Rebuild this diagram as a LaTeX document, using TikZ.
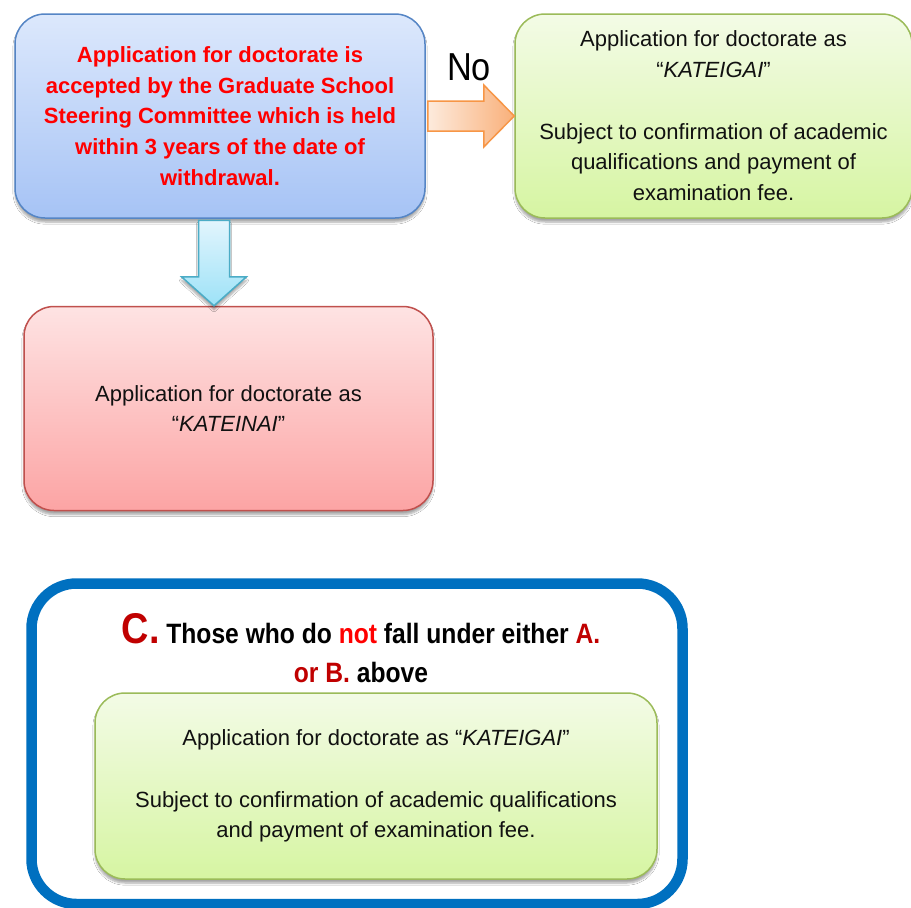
\documentclass[tikz,border=0pt]{standalone}
\usepackage{fontspec}
\setmainfont{Liberation Sans}
\newfontfamily\narrowfont[FakeStretch=0.88]{Liberation Sans}
\usetikzlibrary{shadows.blur,calc}
\definecolor{qborder}{HTML}{5585C5}
\definecolor{qtop}{HTML}{DCE8FC}
\definecolor{qbot}{HTML}{A6C3F5}
\definecolor{gborder}{HTML}{9BBB59}
\definecolor{gtop}{HTML}{F3FBE6}
\definecolor{gbot}{HTML}{D6F5A2}
\definecolor{rborder}{HTML}{C0504D}
\definecolor{rtop}{HTML}{FEE3E3}
\definecolor{rbot}{HTML}{FCA4A4}
\definecolor{oborder}{HTML}{F79646}
\definecolor{oleft}{HTML}{FDEBDD}
\definecolor{oright}{HTML}{F9B07A}
\definecolor{aborder}{HTML}{4BACC6}
\definecolor{atop}{HTML}{E2F5FD}
\definecolor{abot}{HTML}{9DE2F7}
\definecolor{cblue}{HTML}{0070C0}
\definecolor{dred}{HTML}{C00000}
\definecolor{bred}{HTML}{FF0000}
\definecolor{txt}{HTML}{111111}
\tikzset{
  bodytext/.style={font=\fontsize{22}{30.75}\selectfont, text=txt, align=center},
  softshadow/.style={blur shadow={shadow xshift=0pt, shadow yshift=-4pt, shadow blur steps=6, shadow opacity=35}},
  boxbase/.style={rounded corners=30pt, line width=1.5pt, inner sep=0pt, softshadow, bodytext},
  bluebox/.style={boxbase, draw=qborder, top color=qtop, bottom color=qbot},
  greenbox/.style={boxbase, draw=gborder, top color=gtop, bottom color=gbot},
  redbox/.style={boxbase, draw=rborder, top color=rtop, bottom color=rbot},
  orangearrow/.style={draw=oborder, line width=1.5pt, line join=miter, left color=oleft, right color=oright},
  downarrow/.style={draw=aborder, line width=1.5pt, line join=miter, top color=atop, bottom color=abot, softshadow},
  framebox/.style={draw=cblue, line width=10.5pt, rounded corners=45pt, fill=white},
  headfont/.style={font=\narrowfont\bfseries\fontsize{28}{39}\selectfont, text=black, inner sep=0pt}
}
\begin{document}
\begin{tikzpicture}[x=1pt,y=-1pt]
\useasboundingbox (0,0) rectangle (911,908);
\fill[white] (0,0) rectangle (911,908);

% question box
\node[bluebox, minimum width=410pt, minimum height=204pt, text=bred, font=\bfseries\fontsize{22}{30.75}\selectfont] (q) at (220,116)
  {Application for doctorate is\\accepted by the Graduate School\\Steering Committee which is held\\within 3 years of the date of\\withdrawal.};

% KATEIGAI box (No)
\node[greenbox, minimum width=397pt, minimum height=204pt] (kg) at (713.5,116)
  {Application for doctorate as\\``\textit{KATEIGAI}''\\[30.75pt]Subject to confirmation of academic\\qualifications and payment of\\examination fee.};

% KATEINAI box (Yes)
\node[redbox, minimum width=409pt, minimum height=204pt] (kn) at (228.5,408.5)
  {Application for doctorate as\\``\textit{KATEINAI}''};

% orange "No" arrow
\draw[orangearrow] ($(q.east)+(2,-15)$) -- ($(q.east)+(58,-15)$) -- ($(q.east)+(58,-31)$)
  -- (kg.west) -- ($(q.east)+(58,31)$) -- ($(q.east)+(58,15)$) -- ($(q.east)+(2,15)$) -- cycle;
\node[font=\narrowfont\fontsize{39}{39}\selectfont, text=black, anchor=base, inner sep=0pt] (no) at (469,80) {No};

% blue down arrow
\coordinate (dtop) at ($(q.south)+(-6,1.5)$);
\coordinate (dtip) at ($(kn.north)+(-14.5,0)$);
\draw[downarrow] ($(dtop)+(-15.5,0)$) -- ($(dtop)+(15.5,0)$) -- ($(dtip)+(15.5,-29)$) -- ($(dtip)+(32.5,-29)$)
  -- (dtip) -- ($(dtip)+(-32.5,-29)$) -- ($(dtip)+(-15.5,-29)$) -- cycle;

% case C frame
\node[framebox, minimum width=651pt, minimum height=320.5pt, inner sep=0pt] (cframe) at (357,743.75) {};
\node[headfont, anchor=base] (ch1) at (361,643)
  {\textcolor{dred}{\fontsize{43}{43}\selectfont C.} Those who do \textcolor{bred}{not} fall under either \textcolor{dred}{A.}};
\node[headfont, anchor=base] (ch2) at (361,682)
  {\textcolor{dred}{or B.} above};
\node[greenbox, minimum width=562pt, minimum height=186pt] (kc) at (376,786)
  {Application for doctorate as ``\textit{KATEIGAI}''\\[30.75pt]Subject to confirmation of academic qualifications\\and payment of examination fee.};
\end{tikzpicture}
\end{document}
